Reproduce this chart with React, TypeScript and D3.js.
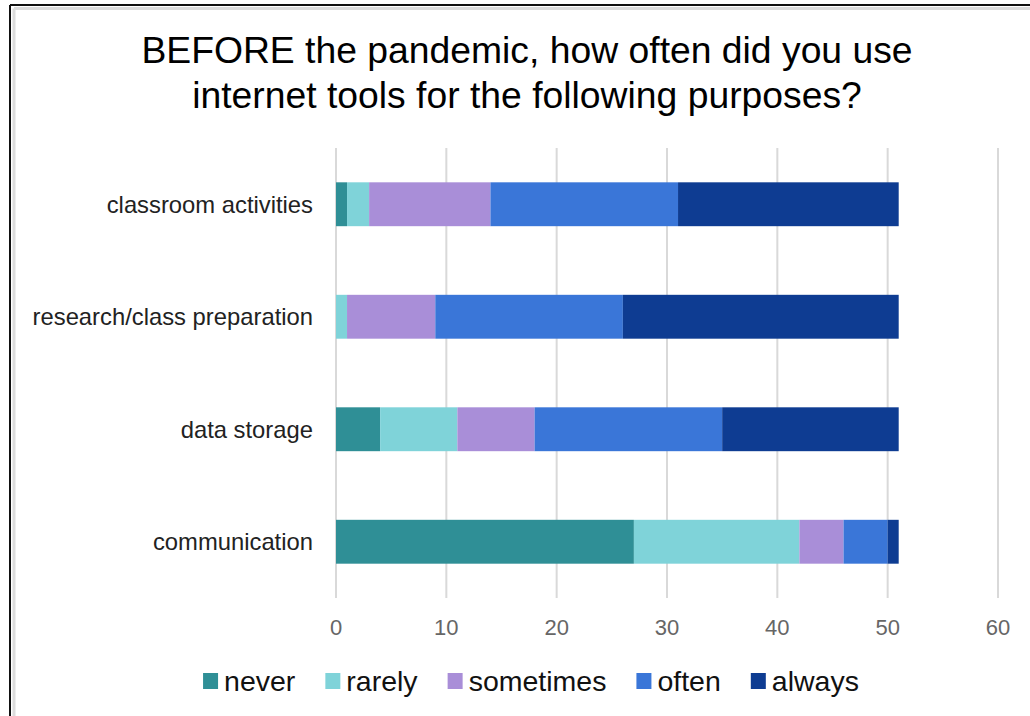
import React, { useEffect, useRef } from 'react';
import * as d3 from 'd3';

// Survey answers per purpose (number of respondents)
const categories = ['classroom activities', 'research/class preparation', 'data storage', 'communication'];
const seriesNames = ['never', 'rarely', 'sometimes', 'often', 'always'];
const never = [1, 0, 4, 27];
const rarely = [2, 1, 7, 15];
const sometimes = [11, 8, 7, 4];
const often = [17, 17, 17, 4];
const always = [20, 25, 16, 1];
const colors = ['#2f8f96', '#7fd3d9', '#a98ed8', '#3a76d8', '#0e3c92'];
const xTicks = [0, 10, 20, 30, 40, 50, 60];
const titleLines = ['BEFORE the pandemic, how often did you use', 'internet tools for the following purposes?'];

const W = 1030;
const H = 716;

const App = () => {
  const ref = useRef<SVGSVGElement | null>(null);

  useEffect(() => {
    document.body.style.margin = '0';
    const svg = d3.select(ref.current);
    svg.selectAll('*').remove();
    const font = 'Liberation Sans, Arial, sans-serif';

    // frame: dark line top/left with a light inner line
    svg.append('rect').attr('width', W).attr('height', H).attr('fill', '#fff');
    svg.append('line').attr('x1', 10).attr('x2', W).attr('y1', 5).attr('y2', 5).attr('stroke', '#111').attr('stroke-width', 2);
    svg.append('line').attr('x1', 10).attr('x2', 10).attr('y1', 5).attr('y2', H).attr('stroke', '#111').attr('stroke-width', 2);
    svg.append('line').attr('x1', 14).attr('x2', W).attr('y1', 8.5).attr('y2', 8.5).attr('stroke', '#dcdcdc').attr('stroke-width', 3);
    svg.append('line').attr('x1', 14).attr('x2', 14).attr('y1', 8.5).attr('y2', H).attr('stroke', '#dcdcdc').attr('stroke-width', 3);

    // title
    svg.selectAll('text.title')
      .data(titleLines)
      .enter()
      .append('text')
      .attr('class', 'title')
      .attr('x', 527)
      .attr('y', (d, i) => 63 + i * 45)
      .attr('text-anchor', 'middle')
      .attr('font-family', font)
      .attr('font-size', 37.3)
      .attr('fill', '#000')
      .text(d => d);

    const x = d3.scaleLinear().domain([0, 60]).range([336, 998]);
    const y = d3.scaleBand().domain(categories).range([148, 598]).paddingInner(0.61).paddingOuter(0.305);

    // gridlines
    svg.selectAll('line.grid')
      .data(xTicks)
      .enter()
      .append('line')
      .attr('x1', d => x(d))
      .attr('x2', d => x(d))
      .attr('y1', 148)
      .attr('y2', 598)
      .attr('stroke', '#d9d9d9')
      .attr('stroke-width', 2);

    // tick labels
    svg.selectAll('text.tick')
      .data(xTicks)
      .enter()
      .append('text')
      .attr('x', d => x(d))
      .attr('y', 635)
      .attr('text-anchor', 'middle')
      .attr('font-family', font)
      .attr('font-size', 22)
      .attr('fill', '#666')
      .text(d => d);

    // category labels
    svg.selectAll('text.cat')
      .data(categories)
      .enter()
      .append('text')
      .attr('x', 313)
      .attr('y', d => (y(d) as number) + y.bandwidth() / 2)
      .attr('dy', '0.35em')
      .attr('text-anchor', 'end')
      .attr('font-family', font)
      .attr('font-size', 23.8)
      .attr('fill', '#222')
      .text(d => d);

    // stacked bars
    const rows = categories.map((c, i) => ({
      category: c,
      never: never[i],
      rarely: rarely[i],
      sometimes: sometimes[i],
      often: often[i],
      always: always[i],
    }));
    const stacked = d3.stack<any>().keys(seriesNames)(rows);

    svg.selectAll('g.series')
      .data(stacked)
      .enter()
      .append('g')
      .attr('fill', (d, i) => colors[i])
      .selectAll('rect')
      .data(d => d)
      .enter()
      .append('rect')
      .attr('x', d => x(d[0]))
      .attr('width', d => x(d[1]) - x(d[0]))
      .attr('y', d => y(d.data.category) as number)
      .attr('height', y.bandwidth());

    // legend, centred
    const legend = svg.append('g');
    let cursor = 0;
    seriesNames.forEach((name, i) => {
      const item = legend.append('g').attr('transform', `translate(${cursor},0)`);
      item.append('rect').attr('x', 0).attr('y', -8).attr('width', 15).attr('height', 16).attr('fill', colors[i]);
      const t = item.append('text')
        .attr('x', 21)
        .attr('y', 0)
        .attr('dy', '0.35em')
        .attr('font-family', font)
        .attr('font-size', 28.5)
        .attr('fill', '#111')
        .text(name);
      const w = (t.node() as SVGTextElement).getComputedTextLength();
      cursor += 21 + w + 30;
    });
    const total = cursor - 30;
    legend.attr('transform', `translate(${531 - total / 2},681)`);
  }, []);

  return <svg ref={ref} width={W} height={H} style={{ display: 'block' }} />;
};

export default App;
